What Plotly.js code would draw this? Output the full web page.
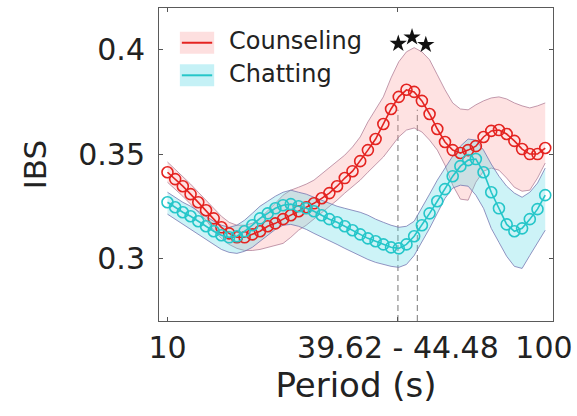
<!DOCTYPE html>
<html>
<head>
<meta charset="utf-8">
<script src="https://cdn.plot.ly/plotly-3.0.1.min.js"></script>
<style>html,body{margin:0;padding:0;background:#fff;}#chart{width:577px;height:416px;}</style>
</head>
<body>
<div id="chart"></div>
<script>
// Period (s), log-spaced samples
const periods = [10.00,10.47,10.96,11.48,12.02,12.59,13.18,13.80,14.45,15.14,
  15.85,16.60,17.38,18.20,19.05,19.95,20.89,21.88,22.91,23.99,
  25.12,26.30,27.54,28.84,30.20,31.62,33.11,34.67,36.31,38.02,
  39.81,41.69,43.65,45.71,47.86,50.12,52.48,54.95,57.54,60.26,
  63.10,66.07,69.18,72.44,75.86,79.43,83.18,87.10,91.20,95.50];

const counselingMean = [0.3413,0.3380,0.3346,0.3308,0.3269,0.3231,0.3192,0.3149,0.3120,0.3101,
  0.3101,0.3115,0.3130,0.3154,0.3168,0.3188,0.3207,0.3226,0.3245,0.3264,
  0.3288,0.3313,0.3346,0.3385,0.3418,0.3466,0.3519,0.3572,0.3644,0.3716,
  0.3774,0.3808,0.3798,0.3755,0.3692,0.3620,0.3558,0.3519,0.3505,0.3519,
  0.3538,0.3582,0.3611,0.3615,0.3596,0.3563,0.3524,0.3500,0.3500,0.3529];
const counselingUpper = [0.3462,0.3428,0.3394,0.3356,0.3317,0.3279,0.3240,0.3202,0.3173,0.3159,
  0.3159,0.3168,0.3192,0.3226,0.3264,0.3303,0.3327,0.3341,0.3356,0.3375,
  0.3404,0.3433,0.3462,0.3495,0.3534,0.3582,0.3654,0.3712,0.3774,0.3865,
  0.3942,0.3990,0.4010,0.3990,0.3952,0.3880,0.3808,0.3745,0.3716,0.3712,
  0.3736,0.3755,0.3769,0.3774,0.3764,0.3745,0.3731,0.3721,0.3731,0.3745];
const counselingLower = [0.3365,0.3332,0.3298,0.3260,0.3221,0.3183,0.3135,0.3096,0.3067,0.3048,
  0.3038,0.3038,0.3043,0.3053,0.3063,0.3072,0.3101,0.3135,0.3159,0.3188,
  0.3221,0.3250,0.3279,0.3313,0.3346,0.3375,0.3413,0.3452,0.3486,0.3534,
  0.3582,0.3615,0.3625,0.3606,0.3567,0.3519,0.3447,0.3351,0.3284,0.3279,
  0.3365,0.3418,0.3433,0.3423,0.3385,0.3341,0.3322,0.3327,0.3385,0.3457];

const chattingMean = [0.3269,0.3245,0.3221,0.3202,0.3178,0.3154,0.3130,0.3111,0.3101,0.3106,
  0.3130,0.3159,0.3192,0.3216,0.3240,0.3255,0.3260,0.3250,0.3240,0.3226,
  0.3207,0.3188,0.3173,0.3154,0.3135,0.3115,0.3096,0.3082,0.3067,0.3053,
  0.3048,0.3067,0.3106,0.3159,0.3216,0.3274,0.3332,0.3394,0.3442,0.3471,
  0.3476,0.3413,0.3317,0.3240,0.3163,0.3130,0.3144,0.3188,0.3236,0.3303];
const chattingUpper = [0.3317,0.3293,0.3269,0.3250,0.3226,0.3202,0.3178,0.3159,0.3149,0.3159,
  0.3183,0.3216,0.3250,0.3274,0.3298,0.3317,0.3327,0.3317,0.3308,0.3293,
  0.3279,0.3264,0.3250,0.3240,0.3231,0.3221,0.3207,0.3188,0.3173,0.3159,
  0.3149,0.3154,0.3178,0.3240,0.3308,0.3375,0.3433,0.3490,0.3538,0.3572,
  0.3567,0.3519,0.3452,0.3394,0.3346,0.3313,0.3293,0.3317,0.3361,0.3433];
const chattingLower = [0.3212,0.3188,0.3163,0.3139,0.3115,0.3091,0.3067,0.3043,0.3029,0.3024,
  0.3034,0.3053,0.3082,0.3111,0.3139,0.3159,0.3163,0.3154,0.3139,0.3120,
  0.3101,0.3082,0.3067,0.3048,0.3029,0.3010,0.2995,0.2981,0.2971,0.2962,
  0.2957,0.2971,0.3014,0.3077,0.3144,0.3216,0.3288,0.3337,0.3351,0.3346,
  0.3303,0.3240,0.3144,0.3077,0.3010,0.2962,0.2952,0.3014,0.3072,0.3135];

// significance window and markers
const sigWindow = [39.62, 44.48];
const starPeriods = [39.7, 43.1, 46.8];
const starValues = [0.4029, 0.4060, 0.4024];

const xTickVals = [10, 39.62, 100];
const xTickText = ['10', '39.62 - 44.48', ''];
const xEndTickVals = [100];
const xEndTickText = ['100'];
const yTickVals = [0.3, 0.35, 0.4];

const seriesNames = ['Counseling', 'Chatting'];

const RED = '#e42320', CYAN = '#25c6c9';
const PINK_FILL = 'rgba(250,150,150,0.28)', CYAN_FILL = 'rgba(90,215,230,0.30)';
const RED_EDGE = 'rgba(175,125,150,0.85)', CYAN_EDGE = 'rgba(115,115,175,0.85)';
const FONT = 'DejaVu Sans';
const X_RANGE = [0.978, 2.0002];

const traces = [
  {x: periods, y: counselingLower, mode: 'lines', line: {color: RED_EDGE, width: 0.9}, showlegend: false, hoverinfo: 'skip'},
  {x: periods, y: counselingUpper, mode: 'lines', fill: 'tonexty', fillcolor: PINK_FILL, line: {color: RED_EDGE, width: 0.9}, showlegend: false, hoverinfo: 'skip'},
  {x: periods, y: chattingLower, mode: 'lines', line: {color: CYAN_EDGE, width: 0.9}, showlegend: false, hoverinfo: 'skip'},
  {x: periods, y: chattingUpper, mode: 'lines', fill: 'tonexty', fillcolor: CYAN_FILL, line: {color: CYAN_EDGE, width: 0.9}, showlegend: false, hoverinfo: 'skip'},
  {x: periods, y: counselingMean, name: seriesNames[0], mode: 'lines+markers', line: {color: RED, width: 1.6},
   marker: {symbol: 'circle-open', size: 11, color: RED, line: {width: 1.6, color: RED}}, showlegend: false},
  {x: periods, y: chattingMean, name: seriesNames[1], mode: 'lines+markers', line: {color: CYAN, width: 1.6},
   marker: {symbol: 'circle-open', size: 11, color: CYAN, line: {width: 1.6, color: CYAN}}, showlegend: false},
  {x: starPeriods, y: starValues, xaxis: 'x2', yaxis: 'y', mode: 'markers', marker: {symbol: 'star', size: 13, color: '#111'}, showlegend: false, hoverinfo: 'skip'}
];

const shapes = sigWindow.map(p => ({
  type: 'line', xref: 'x', yref: 'paper', x0: p, x1: p, y0: 0, y1: 0.675,
  line: {color: '#777', width: 1, dash: '6px,4px'}, layer: 'below'
}));

// legend (patch + line + label)
const legendRows = [
  {y: 0.889, color: RED, fill: 'rgba(250,150,150,0.30)', text: seriesNames[0]},
  {y: 0.785, color: CYAN, fill: 'rgba(90,215,230,0.35)', text: seriesNames[1]}
];
const annotations = [];
legendRows.forEach(r => {
  shapes.push({type: 'rect', xref: 'paper', yref: 'paper', x0: 0.053, x1: 0.140, y0: r.y - 0.035, y1: r.y + 0.035,
    fillcolor: r.fill, line: {width: 0}});
  shapes.push({type: 'line', xref: 'paper', yref: 'paper', x0: 0.058, x1: 0.135, y0: r.y, y1: r.y,
    line: {color: r.color, width: 2}});
  annotations.push({xref: 'paper', yref: 'paper', x: 0.172, y: r.y + 0.004, xanchor: 'left', yanchor: 'middle',
    text: r.text, showarrow: false, font: {family: FONT, size: 24, color: '#222'}});
});

const layout = {
  width: 577, height: 416,
  margin: {l: 159, r: 24, t: 8, b: 95},
  paper_bgcolor: '#fff', plot_bgcolor: '#fff',
  showlegend: false,
  font: {family: FONT, color: '#222'},
  xaxis: {
    type: 'log', range: X_RANGE,
    tickvals: xTickVals, ticktext: xTickText,
    ticks: 'inside', ticklen: 4, tickcolor: '#555',
    showline: true, linecolor: '#5a5a5a', linewidth: 1, mirror: 'ticks',
    showgrid: false, zeroline: false,
    tickfont: {family: FONT, size: 30, color: '#222'},
    ticklabelstandoff: 0,
    ticklabeloverflow: 'allow',
    title: {text: 'Period (s)', font: {family: FONT, size: 34, color: '#222'}, standoff: 1}
  },
  xaxis2: {
    type: 'log', range: X_RANGE, overlaying: 'x', anchor: 'y', side: 'bottom',
    tickvals: xEndTickVals, ticktext: xEndTickText,
    ticks: '', showline: false, showgrid: false, zeroline: false,
    tickfont: {family: FONT, size: 30, color: '#222'},
    ticklabelstandoff: 6, ticklabelshift: -9,
    ticklabeloverflow: 'allow'
  },
  yaxis: {
    range: [0.27, 0.42],
    tickvals: yTickVals,
    ticks: 'inside', ticklen: 4, tickcolor: '#555',
    showline: true, linecolor: '#5a5a5a', linewidth: 1, mirror: 'ticks',
    showgrid: false, zeroline: false,
    tickfont: {family: FONT, size: 30, color: '#222'},
    ticklabelstandoff: 7,
    ticklabeloverflow: 'allow',
    title: {text: 'IBS', font: {family: FONT, size: 31, color: '#222'}, standoff: 22}
  },
  shapes: shapes,
  annotations: annotations
};

Plotly.newPlot('chart', traces, layout, {displayModeBar: false, staticPlot: true});
</script>
</body>
</html>
